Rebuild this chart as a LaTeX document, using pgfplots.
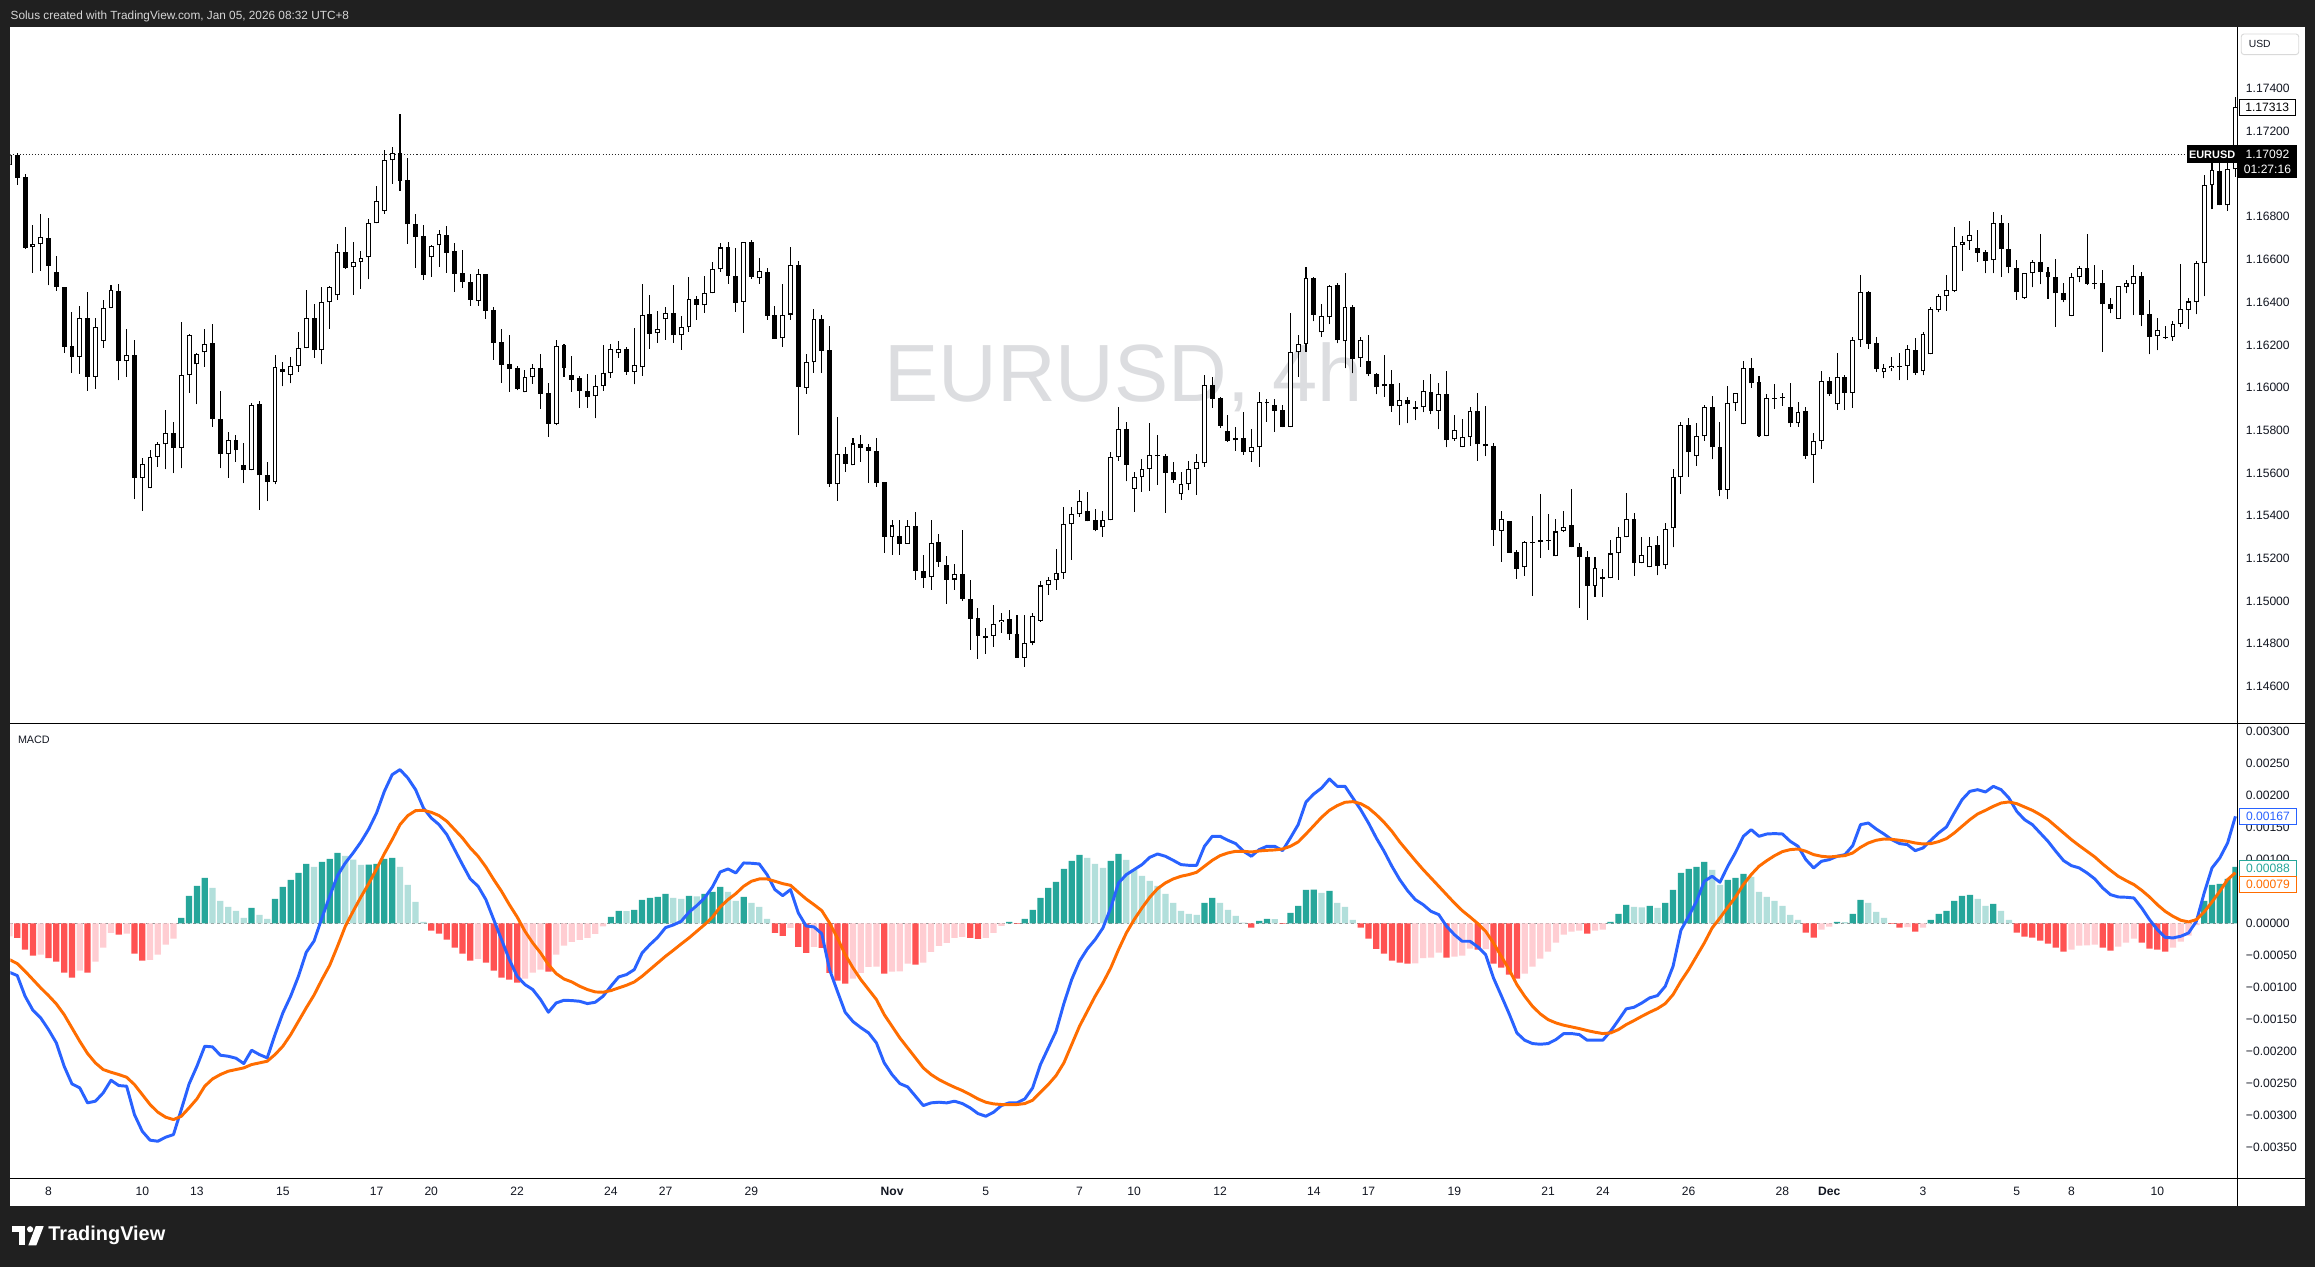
\documentclass[border=0pt]{standalone}
\usepackage{fontspec}
\setmainfont{Liberation Sans}
\usepackage{pgfplots}
\usepackage{pgfplotstable}
\pgfplotsset{compat=1.18}

\definecolor{tvbg}{RGB}{32,32,32}
\definecolor{hdr}{RGB}{214,214,214}
\definecolor{tvtext}{RGB}{19,23,34}
\definecolor{wmark}{RGB}{220,221,224}
\definecolor{macdblue}{RGB}{41,98,255}
\definecolor{sigorange}{RGB}{255,109,0}
\definecolor{hteal}{RGB}{38,166,154}
\definecolor{hlteal}{RGB}{178,223,219}
\definecolor{hred}{RGB}{255,82,82}
\definecolor{hpink}{RGB}{255,205,210}

% EURUSD 4h candles, white (rising) ones
\pgfplotstableread{
i o h l c
0 1.17043 1.17097 1.17035 1.17089
3 1.16657 1.16762 1.16538 1.16673
4 1.16671 1.16813 1.16548 1.16705
9 1.16145 1.16382 1.16064 1.16325
11 1.16051 1.16325 1.15995 1.16282
12 1.16217 1.16410 1.16186 1.16371
13 1.16371 1.16481 1.16371 1.16456
15 1.16122 1.16275 1.16051 1.16151
17 1.15578 1.15669 1.15424 1.15641
18 1.15528 1.15708 1.15528 1.15674
19 1.15674 1.15747 1.15630 1.15734
20 1.15734 1.15895 1.15617 1.15786
22 1.15719 1.16307 1.15621 1.16058
23 1.16058 1.16250 1.15976 1.16245
24 1.16109 1.16164 1.15922 1.16156
25 1.16165 1.16275 1.16098 1.16203
28 1.15688 1.15792 1.15578 1.15753
31 1.15613 1.15926 1.15613 1.15919
34 1.15557 1.16151 1.15547 1.16095
36 1.16058 1.16142 1.16019 1.16103
37 1.16103 1.16259 1.16075 1.16184
38 1.16184 1.16456 1.16184 1.16325
40 1.16175 1.16470 1.16108 1.16399
41 1.16399 1.16474 1.16276 1.16470
42 1.16432 1.16673 1.16412 1.16634
44 1.16563 1.16682 1.16435 1.16587
45 1.16587 1.16640 1.16463 1.16606
46 1.16610 1.16790 1.16506 1.16769
47 1.16769 1.16944 1.16769 1.16872
48 1.16826 1.17113 1.16815 1.17064
49 1.17064 1.17126 1.16955 1.17097
54 1.16610 1.16667 1.16519 1.16661
55 1.16666 1.16736 1.16566 1.16717
60 1.16404 1.16555 1.16383 1.16530
66 1.15977 1.16080 1.15977 1.16048
67 1.16048 1.16112 1.16018 1.16090
70 1.15831 1.16222 1.15823 1.16193
75 1.15959 1.16059 1.15856 1.16006
76 1.16006 1.16199 1.15985 1.16066
77 1.16066 1.16204 1.16046 1.16179
78 1.16160 1.16218 1.16140 1.16179
80 1.16074 1.16279 1.16015 1.16105
81 1.16094 1.16485 1.16055 1.16338
83 1.16254 1.16358 1.16210 1.16272
84 1.16319 1.16379 1.16224 1.16347
86 1.16244 1.16335 1.16177 1.16282
87 1.16282 1.16518 1.16262 1.16413
89 1.16385 1.16522 1.16350 1.16441
90 1.16441 1.16588 1.16441 1.16553
91 1.16553 1.16678 1.16542 1.16656
94 1.16402 1.16680 1.16257 1.16680
96 1.16511 1.16609 1.16486 1.16545
99 1.16230 1.16487 1.16191 1.16338
100 1.16342 1.16656 1.16317 1.16572
102 1.16000 1.16155 1.15971 1.16118
103 1.16118 1.16370 1.16069 1.16319
106 1.15546 1.15860 1.15470 1.15691
108 1.15635 1.15766 1.15635 1.15738
113 1.15301 1.15378 1.15217 1.15354
115 1.15268 1.15378 1.15268 1.15350
118 1.15111 1.15378 1.15053 1.15270
121 1.15101 1.15176 1.15053 1.15125
126 1.14836 1.14980 1.14786 1.14895
127 1.14900 1.14942 1.14852 1.14912
130 1.14734 1.14934 1.14692 1.14806
131 1.14806 1.14942 1.14792 1.14930
132 1.14908 1.15092 1.14903 1.15073
133 1.15073 1.15111 1.15030 1.15101
134 1.15097 1.15242 1.15053 1.15133
135 1.15133 1.15442 1.15104 1.15359
136 1.15359 1.15442 1.15193 1.15406
137 1.15406 1.15521 1.15395 1.15471
140 1.15345 1.15424 1.15301 1.15382
141 1.15378 1.15696 1.15378 1.15673
142 1.15673 1.15911 1.15657 1.15804
144 1.15526 1.15604 1.15419 1.15579
145 1.15579 1.15665 1.15512 1.15617
146 1.15617 1.15834 1.15517 1.15682
150 1.15500 1.15603 1.15475 1.15547
151 1.15547 1.15657 1.15519 1.15617
152 1.15617 1.15687 1.15498 1.15650
153 1.15645 1.16059 1.15629 1.16010
159 1.15700 1.15806 1.15653 1.15720
160 1.15720 1.15979 1.15629 1.15931
164 1.15817 1.16349 1.15814 1.16165
165 1.16165 1.16248 1.16051 1.16202
166 1.16202 1.16563 1.16168 1.16511
168 1.16258 1.16391 1.16238 1.16333
169 1.16329 1.16480 1.16297 1.16475
171 1.16216 1.16535 1.16090 1.16376
173 1.16137 1.16235 1.16098 1.16221
178 1.15912 1.16020 1.15823 1.15940
181 1.15907 1.16035 1.15884 1.15982
183 1.15892 1.16020 1.15804 1.15968
185 1.15757 1.15873 1.15751 1.15803
186 1.15721 1.15853 1.15721 1.15767
187 1.15767 1.15909 1.15728 1.15888
191 1.15329 1.15423 1.15184 1.15384
194 1.15158 1.15283 1.15119 1.15276
198 1.15209 1.15384 1.15209 1.15326
199 1.15329 1.15422 1.15323 1.15348
203 1.15072 1.15206 1.15020 1.15153
205 1.15106 1.15286 1.15106 1.15223
206 1.15223 1.15348 1.15100 1.15298
207 1.15298 1.15506 1.15298 1.15383
209 1.15177 1.15300 1.15177 1.15214
210 1.15158 1.15301 1.15158 1.15258
212 1.15167 1.15364 1.15152 1.15336
213 1.15340 1.15617 1.15251 1.15579
214 1.15579 1.15837 1.15503 1.15823
216 1.15678 1.15832 1.15634 1.15771
217 1.15771 1.15916 1.15751 1.15907
220 1.15521 1.16005 1.15476 1.15929
221 1.15926 1.15973 1.15891 1.15973
222 1.15827 1.16124 1.15827 1.16090
225 1.15773 1.15968 1.15773 1.15949
229 1.15832 1.15932 1.15816 1.15884
231 1.15682 1.15785 1.15554 1.15748
232 1.15748 1.16076 1.15712 1.16029
234 1.15921 1.16160 1.15896 1.16048
236 1.15976 1.16235 1.15905 1.16221
237 1.16221 1.16527 1.16191 1.16446
240 1.16071 1.16108 1.16043 1.16093
241 1.16090 1.16141 1.16076 1.16101
243 1.16101 1.16197 1.16035 1.16179
245 1.16076 1.16260 1.16057 1.16249
246 1.16155 1.16375 1.16155 1.16366
247 1.16363 1.16436 1.16352 1.16427
248 1.16427 1.16525 1.16360 1.16455
249 1.16453 1.16753 1.16447 1.16661
250 1.16666 1.16709 1.16546 1.16683
251 1.16684 1.16780 1.16645 1.16713
254 1.16596 1.16822 1.16535 1.16772
258 1.16419 1.16538 1.16416 1.16535
259 1.16535 1.16597 1.16469 1.16589
264 1.16336 1.16535 1.16333 1.16516
265 1.16516 1.16569 1.16492 1.16558
270 1.16321 1.16477 1.16321 1.16474
271 1.16469 1.16502 1.16441 1.16491
272 1.16483 1.16574 1.16339 1.16521
275 1.16240 1.16324 1.16174 1.16268
277 1.16235 1.16310 1.16219 1.16299
278 1.16296 1.16578 1.16285 1.16366
279 1.16363 1.16418 1.16275 1.16403
280 1.16400 1.16594 1.16343 1.16585
281 1.16581 1.16994 1.16428 1.16950
282 1.16947 1.17050 1.16834 1.17017
284 1.16853 1.17050 1.16827 1.17022
285 1.17022 1.17362 1.16987 1.17312
}\upbars

% black (falling) candles and dojis
\pgfplotstableread{
i o h l c
1 1.17089 1.17097 1.16949 1.16983
2 1.16988 1.17000 1.16651 1.16655
5 1.16701 1.16794 1.16478 1.16571
6 1.16540 1.16616 1.16454 1.16473
7 1.16470 1.16470 1.16164 1.16192
8 1.16195 1.16354 1.16070 1.16145
10 1.16325 1.16448 1.15986 1.16051
14 1.16451 1.16485 1.16033 1.16122
16 1.16151 1.16223 1.15477 1.15578
21 1.15786 1.15839 1.15599 1.15719
26 1.16207 1.16298 1.15817 1.15855
27 1.15855 1.15984 1.15621 1.15688
29 1.15753 1.15780 1.15653 1.15706
30 1.15636 1.15742 1.15552 1.15613
32 1.15922 1.15937 1.15427 1.15589
33 1.15589 1.15652 1.15468 1.15557
35 1.16086 1.16120 1.16005 1.16075
39 1.16325 1.16390 1.16140 1.16175
43 1.16634 1.16752 1.16557 1.16562
50 1.17097 1.17281 1.16922 1.16969
51 1.16970 1.17073 1.16674 1.16764
52 1.16764 1.16813 1.16561 1.16706
53 1.16709 1.16761 1.16505 1.16528
56 1.16714 1.16756 1.16538 1.16631
57 1.16639 1.16677 1.16449 1.16533
58 1.16535 1.16644 1.16468 1.16496
59 1.16494 1.16532 1.16383 1.16411
61 1.16530 1.16530 1.16322 1.16360
62 1.16361 1.16379 1.16130 1.16210
63 1.16211 1.16274 1.16023 1.16107
64 1.16108 1.16246 1.15981 1.16088
65 1.16090 1.16101 1.15988 1.15995
68 1.16090 1.16158 1.15901 1.15971
69 1.15974 1.16021 1.15770 1.15831
71 1.16199 1.16205 1.16051 1.16093
72 1.16059 1.16148 1.15981 1.16037
73 1.16043 1.16054 1.15906 1.15985
74 1.15983 1.16063 1.15906 1.15957
79 1.16179 1.16190 1.16059 1.16074
82 1.16343 1.16433 1.16182 1.16252
85 1.16347 1.16480 1.16210 1.16244
88 1.16413 1.16429 1.16318 1.16388
92 1.16656 1.16683 1.16486 1.16524
93 1.16521 1.16653 1.16355 1.16397
95 1.16680 1.16691 1.16510 1.16518
97 1.16539 1.16558 1.16317 1.16336
98 1.16342 1.16381 1.16228 1.16228
101 1.16572 1.16592 1.15777 1.16004
104 1.16319 1.16339 1.16069 1.16172
105 1.16174 1.16288 1.15535 1.15549
107 1.15691 1.15721 1.15606 1.15643
109 1.15734 1.15776 1.15652 1.15718
110 1.15721 1.15734 1.15554 1.15705
111 1.15705 1.15766 1.15535 1.15554
112 1.15557 1.15557 1.15226 1.15301
114 1.15303 1.15382 1.15217 1.15268
116 1.15350 1.15417 1.15100 1.15142
117 1.15143 1.15218 1.15062 1.15106
119 1.15275 1.15312 1.15161 1.15184
120 1.15167 1.15209 1.14987 1.15101
122 1.15125 1.15335 1.15001 1.15011
123 1.15008 1.15098 1.14772 1.14917
124 1.14919 1.14966 1.14730 1.14838
125 1.14838 1.14872 1.14753 1.14825
128 1.14914 1.14956 1.14819 1.14844
129 1.14845 1.14933 1.14734 1.14734
138 1.15424 1.15513 1.15373 1.15373
139 1.15378 1.15429 1.15326 1.15335
143 1.15804 1.15839 1.15561 1.15639
147 1.15684 1.15778 1.15545 1.15679
148 1.15678 1.15689 1.15414 1.15601
149 1.15603 1.15651 1.15554 1.15568
154 1.16010 1.16051 1.15906 1.15948
155 1.15951 1.15956 1.15810 1.15821
156 1.15795 1.15871 1.15745 1.15751
157 1.15762 1.15814 1.15704 1.15753
158 1.15762 1.15885 1.15686 1.15700
161 1.15931 1.15946 1.15840 1.15926
162 1.15917 1.15948 1.15793 1.15892
163 1.15893 1.15918 1.15814 1.15817
167 1.16511 1.16516 1.16310 1.16341
170 1.16480 1.16488 1.16207 1.16221
172 1.16376 1.16386 1.16066 1.16135
174 1.16123 1.16244 1.16054 1.16062
175 1.16062 1.16066 1.15968 1.16001
176 1.16015 1.16151 1.15957 1.16006
177 1.16015 1.16082 1.15887 1.15912
179 1.15940 1.15957 1.15832 1.15921
180 1.15907 1.15938 1.15848 1.15898
182 1.15977 1.16065 1.15874 1.15892
184 1.15968 1.16077 1.15720 1.15753
188 1.15888 1.15974 1.15657 1.15734
189 1.15734 1.15913 1.15679 1.15725
190 1.15728 1.15739 1.15259 1.15333
192 1.15373 1.15373 1.15226 1.15226
193 1.15228 1.15239 1.15105 1.15151
195 1.15277 1.15398 1.15025 1.15272
196 1.15286 1.15501 1.15203 1.15278
197 1.15287 1.15408 1.15240 1.15282
200 1.15354 1.15525 1.15251 1.15251
201 1.15251 1.15272 1.14969 1.15205
202 1.15206 1.15234 1.14913 1.15072
204 1.15112 1.15150 1.15020 1.15105
208 1.15383 1.15414 1.15119 1.15180
211 1.15261 1.15304 1.15120 1.15166
215 1.15823 1.15857 1.15582 1.15696
218 1.15907 1.15960 1.15664 1.15720
219 1.15720 1.15837 1.15490 1.15521
223 1.16090 1.16137 1.15999 1.16019
224 1.16024 1.16052 1.15770 1.15773
226 1.15953 1.16015 1.15901 1.15948
227 1.15955 1.15974 1.15915 1.15949
228 1.15907 1.16019 1.15816 1.15832
230 1.15890 1.15909 1.15667 1.15681
233 1.16029 1.16049 1.15962 1.15971
235 1.16048 1.16058 1.15896 1.15976
238 1.16447 1.16450 1.16182 1.16205
239 1.16207 1.16235 1.16073 1.16088
242 1.16102 1.16160 1.16035 1.16097
244 1.16174 1.16230 1.16060 1.16069
252 1.16652 1.16736 1.16588 1.16631
253 1.16633 1.16644 1.16535 1.16594
255 1.16772 1.16808 1.16519 1.16647
256 1.16647 1.16772 1.16535 1.16563
257 1.16558 1.16595 1.16410 1.16446
260 1.16589 1.16719 1.16483 1.16542
261 1.16542 1.16563 1.16416 1.16516
262 1.16516 1.16602 1.16285 1.16441
263 1.16441 1.16489 1.16399 1.16410
266 1.16558 1.16719 1.16482 1.16486
267 1.16489 1.16574 1.16460 1.16484
268 1.16489 1.16549 1.16168 1.16389
269 1.16389 1.16418 1.16347 1.16366
273 1.16521 1.16541 1.16288 1.16341
274 1.16343 1.16410 1.16155 1.16238
276 1.16238 1.16286 1.16226 1.16233
283 1.17014 1.17050 1.16853 1.16853
}\downbars

\pgfplotsset{
  tvpane/.style={
    scale only axis, width=1508.5pt, xmin=0.11, xmax=285.27,
    axis line style={draw=none}, tick style={draw=none}, major tick length=0pt,
    yticklabel pos=right, scaled y ticks=false, clip=true,
    yticklabel style={anchor=west, inner sep=0pt, xshift=5.5pt, text=tvtext,
      font=\fontsize{8.2}{9}\selectfont},
  },
  nomark/.style={only marks, mark=*, mark size=0pt,
    mark options={draw=none, fill=none}},
  wick/.style={nomark, error bars/.cd, y dir=plus, y explicit,
    error mark=none, error bar style={black, line width=0.7pt, line cap=butt}},
  body/.style={nomark, error bars/.cd, y dir=plus, y explicit,
    error mark=none, error bar style={black, line width=3.3pt, line cap=butt}},
  hollow/.style={nomark, error bars/.cd, y dir=plus, y explicit,
    error mark=none, error bar style={white, line width=1.9pt, line cap=butt,
      shorten <=0.7pt, shorten >=0.7pt}},
  hbar/.style={ybar, bar width=0.8, bar shift=0pt, draw=none, fill=#1},
}

\begin{document}
\begin{tikzpicture}[x=1pt,y=1pt]
\useasboundingbox (0,0) rectangle (1568,-858);
\fill[tvbg] (0,0) rectangle (1568,-858);
\fill[white] (7,-18.5) rectangle (1561,-817);
\node[anchor=base west, inner sep=0pt, text=hdr, font=\fontsize{8}{9}\selectfont]
  at (7,-12.9) {Solus created with TradingView.com, Jan 05, 2026 08:32 UTC+8};
\node[anchor=base, inner sep=0pt, text=wmark, font=\fontsize{55}{60}\selectfont]
  at (761,-272) {EURUSD, 4h};

% ---- price pane ----
\begin{axis}[tvpane, at={(7pt,-490pt)}, anchor=south west, height=471.5pt,
  ymin=1.14427, ymax=1.17687, xtick=\empty,
  ytick={1.146,1.148,1.150,1.152,1.154,1.156,1.158,1.160,1.162,1.164,1.166,1.168,1.172,1.174},
  yticklabels={1.14600,1.14800,1.15000,1.15200,1.15400,1.15600,1.15800,1.16000,1.16200,1.16400,1.16600,1.16800,1.17200,1.17400},
]
\addplot[black!85, line width=0.7pt, dash pattern=on 0.7pt off 1.4pt]
  coordinates {(0.11,1.17092)(278.7,1.17092)};
\addplot[wick] table[x=i, y=l, y error plus expr=\thisrow{h}-\thisrow{l}] {\upbars};
\addplot[wick] table[x=i, y=l, y error plus expr=\thisrow{h}-\thisrow{l}] {\downbars};
\addplot[body] table[x=i, y=c, y error plus expr=\thisrow{o}-\thisrow{c}] {\downbars};
\addplot[body] table[x=i, y=o, y error plus expr=\thisrow{c}-\thisrow{o}] {\upbars};
\addplot[hollow] table[x=i, y=o, y error plus expr=\thisrow{c}-\thisrow{o}] {\upbars};
\end{axis}

% ---- MACD pane ----
\begin{axis}[tvpane, at={(7pt,-798pt)}, anchor=south west, height=308pt,
  ymin=-0.00398, ymax=0.00312,
  ytick={-0.0035,-0.003,-0.0025,-0.002,-0.0015,-0.001,-0.0005,0,0.001,0.0015,0.002,0.0025,0.003},
  yticklabels={−0.00350,−0.00300,−0.00250,−0.00200,−0.00150,−0.00100,−0.00050,0.00000,0.00100,0.00150,0.00200,0.00250,0.00300},
  xtick={5,17,24,35,47,54,65,77,84,95,113,125,137,144,155,167,174,185,197,204,215,227,233,245,257,264,275},
  xticklabels={8,10,13,15,17,20,22,24,27,29,\textbf{Nov},5,7,10,12,14,17,19,21,24,26,28,\textbf{Dec},3,5,8,10},
  xticklabel style={anchor=center, inner sep=0pt, yshift=-9pt, text=tvtext,
    font=\fontsize{8.2}{9}\selectfont},
]
\addplot[black!45, line width=0.6pt, dash pattern=on 2pt off 2pt]
  coordinates {(0.11,0)(285.27,0)};
% histogram, growing above zero
\addplot[hbar=hteal] coordinates {(22,0.83e-4)(23,4.27e-4)(24,5.83e-4)(25,7.08e-4)(31,2.39e-4)(34,3.80e-4)(35,5.67e-4)(36,6.76e-4)(37,7.86e-4)(38,9.26e-4)(40,9.57e-4)(41,10.04e-4)(42,10.98e-4)(46,9.15e-4)(47,9.26e-4)(48,10.04e-4)(49,10.20e-4)(77,0.99e-4)(78,1.93e-4)(80,2.08e-4)(81,3.64e-4)(82,3.95e-4)(83,4.11e-4)(84,4.58e-4)(87,4.27e-4)(89,4.58e-4)(90,4.89e-4)(91,5.67e-4)(94,4.11e-4)(128,0.21e-4)(130,0.68e-4)(131,2.08e-4)(132,3.95e-4)(133,5.52e-4)(134,6.45e-4)(135,8.48e-4)(136,9.73e-4)(137,10.67e-4)(141,9.73e-4)(142,10.82e-4)(153,3.17e-4)(154,3.95e-4)(160,0.36e-4)(161,0.68e-4)(164,1.61e-4)(165,2.71e-4)(166,5.20e-4)(167,5.25e-4)(169,5.05e-4)(205,0.21e-4)(206,1.46e-4)(207,2.86e-4)(210,2.71e-4)(212,3.17e-4)(213,5.20e-4)(214,7.86e-4)(215,8.48e-4)(216,8.79e-4)(217,9.57e-4)(220,6.76e-4)(221,7.08e-4)(222,7.70e-4)(234,0.21e-4)(236,1.46e-4)(237,3.64e-4)(246,0.52e-4)(247,1.46e-4)(248,1.93e-4)(249,3.49e-4)(250,4.27e-4)(251,4.42e-4)(254,3.02e-4)(281,3.49e-4)(282,5.98e-4)(283,6.14e-4)(284,6.92e-4)(285,8.79e-4)};
% above zero, falling
\addplot[hbar=hlteal] coordinates {(26,5.52e-4)(27,3.49e-4)(28,2.55e-4)(29,1.92e-4)(30,0.83e-4)(32,1.30e-4)(33,0.68e-4)(39,8.79e-4)(43,10.51e-4)(44,9.94e-4)(45,9.11e-4)(50,8.79e-4)(51,5.98e-4)(52,3.33e-4)(53,0.21e-4)(79,1.90e-4)(85,3.95e-4)(86,3.80e-4)(88,4.20e-4)(92,4.89e-4)(93,3.49e-4)(95,3.17e-4)(96,2.55e-4)(97,0.68e-4)(138,10.20e-4)(139,9.26e-4)(140,8.64e-4)(143,9.89e-4)(144,8.32e-4)(145,7.39e-4)(146,6.61e-4)(147,5.83e-4)(148,4.58e-4)(149,3.17e-4)(150,1.93e-4)(151,1.46e-4)(152,1.30e-4)(155,3.17e-4)(156,2.08e-4)(157,1.14e-4)(158,0.10e-4)(162,0.65e-4)(168,4.73e-4)(170,3.17e-4)(171,2.55e-4)(172,0.52e-4)(208,2.55e-4)(209,2.50e-4)(211,2.39e-4)(218,8.32e-4)(219,5.98e-4)(223,7.23e-4)(224,4.89e-4)(225,4.11e-4)(226,3.49e-4)(227,2.71e-4)(228,1.30e-4)(229,0.52e-4)(235,0.18e-4)(238,3.17e-4)(239,1.77e-4)(240,0.83e-4)(252,3.80e-4)(253,2.71e-4)(255,1.93e-4)(256,0.52e-4)};
% below zero, falling
\addplot[hbar=hred] coordinates {(1,-2.29e-4)(2,-4.11e-4)(3,-5.05e-4)(5,-5.46e-4)(6,-5.98e-4)(7,-7.70e-4)(8,-8.48e-4)(10,-7.70e-4)(14,-1.77e-4)(16,-4.73e-4)(17,-5.83e-4)(54,-1.14e-4)(55,-1.61e-4)(56,-2.55e-4)(57,-3.80e-4)(58,-4.73e-4)(59,-5.83e-4)(61,-6.14e-4)(62,-7.39e-4)(63,-8.48e-4)(64,-8.79e-4)(65,-9.26e-4)(69,-7.54e-4)(98,-1.51e-4)(99,-1.98e-4)(101,-3.69e-4)(102,-4.63e-4)(104,-3.85e-4)(105,-7.75e-4)(106,-8.95e-4)(107,-9.42e-4)(112,-7.86e-4)(116,-6.45e-4)(123,-2.29e-4)(124,-2.45e-4)(129,-0.10e-4)(159,-0.68e-4)(163,-0.10e-4)(173,-0.68e-4)(174,-2.39e-4)(175,-4.01e-4)(176,-4.73e-4)(177,-5.83e-4)(178,-6.14e-4)(179,-6.30e-4)(184,-5.36e-4)(188,-4.11e-4)(190,-6.30e-4)(191,-6.92e-4)(192,-8.01e-4)(193,-8.64e-4)(202,-1.61e-4)(230,-1.46e-4)(231,-2.24e-4)(241,-0.10e-4)(242,-0.68e-4)(244,-1.30e-4)(257,-1.46e-4)(258,-2.08e-4)(259,-2.24e-4)(260,-2.71e-4)(261,-3.17e-4)(262,-3.80e-4)(263,-4.42e-4)(268,-3.80e-4)(269,-4.27e-4)(273,-3.02e-4)(274,-3.95e-4)(275,-4.11e-4)(276,-4.42e-4)};
% below zero, rising
\addplot[hbar=hpink] coordinates {(0,-2.03e-4)(4,-4.90e-4)(9,-7.39e-4)(11,-5.98e-4)(12,-3.80e-4)(13,-1.51e-4)(15,-1.61e-4)(18,-5.70e-4)(19,-4.89e-4)(20,-3.33e-4)(21,-2.39e-4)(60,-5.57e-4)(66,-8.64e-4)(67,-7.70e-4)(68,-7.23e-4)(70,-4.89e-4)(71,-3.49e-4)(72,-2.91e-4)(73,-2.60e-4)(74,-2.29e-4)(75,-1.66e-4)(76,-0.47e-4)(100,-0.73e-4)(103,-3.69e-4)(108,-8.64e-4)(109,-7.75e-4)(110,-6.82e-4)(111,-6.75e-4)(113,-7.54e-4)(114,-7.50e-4)(115,-6.30e-4)(117,-6.14e-4)(118,-4.47e-4)(119,-3.54e-4)(120,-3.07e-4)(121,-2.29e-4)(122,-2.13e-4)(125,-2.29e-4)(126,-1.51e-4)(127,-0.42e-4)(180,-6.25e-4)(181,-5.46e-4)(182,-5.36e-4)(183,-4.58e-4)(185,-5.20e-4)(186,-5.05e-4)(187,-3.95e-4)(189,-4.05e-4)(194,-7.86e-4)(195,-6.76e-4)(196,-5.52e-4)(197,-4.42e-4)(198,-3.02e-4)(199,-1.77e-4)(200,-1.30e-4)(201,-1.14e-4)(203,-1.14e-4)(204,-0.99e-4)(232,-0.99e-4)(233,-0.52e-4)(243,-0.62e-4)(245,-0.68e-4)(264,-4.11e-4)(265,-3.49e-4)(266,-3.45e-4)(267,-3.33e-4)(270,-3.64e-4)(271,-3.02e-4)(272,-2.39e-4)(277,-3.80e-4)(278,-2.86e-4)(279,-1.93e-4)(280,-0.30e-4)};
% MACD line
\addplot[macdblue, line width=2pt, line join=round] coordinates {(0,-7.65e-4)(1,-8.17e-4)(2,-11.39e-4)(3,-13.58e-4)(4,-14.78e-4)(5,-16.60e-4)(6,-18.68e-4)(7,-22.32e-4)(8,-25.08e-4)(9,-25.70e-4)(10,-28.04e-4)(11,-27.78e-4)(12,-26.48e-4)(13,-24.51e-4)(14,-25.34e-4)(15,-25.44e-4)(16,-29.87e-4)(17,-32.47e-4)(18,-33.87e-4)(19,-34.03e-4)(20,-33.40e-4)(21,-32.99e-4)(22,-29.08e-4)(23,-25.08e-4)(24,-22.32e-4)(25,-19.20e-4)(26,-19.30e-4)(27,-20.60e-4)(28,-20.76e-4)(29,-21.07e-4)(30,-21.90e-4)(31,-19.82e-4)(32,-20.50e-4)(33,-21.02e-4)(34,-17.38e-4)(35,-14.00e-4)(36,-11.39e-4)(37,-8.27e-4)(38,-4.53e-4)(39,-2.76e-4)(40,0.83e-4)(41,4.21e-4)(42,7.44e-4)(43,9.42e-4)(44,10.98e-4)(45,12.70e-4)(46,14.72e-4)(47,17.22e-4)(48,20.60e-4)(49,23.21e-4)(50,23.99e-4)(51,22.69e-4)(52,20.86e-4)(53,18.00e-4)(54,16.44e-4)(55,15.40e-4)(56,13.84e-4)(57,11.50e-4)(58,9.16e-4)(59,6.92e-4)(60,5.78e-4)(61,3.69e-4)(62,0.57e-4)(63,-2.55e-4)(64,-5.67e-4)(65,-8.27e-4)(66,-9.57e-4)(67,-10.35e-4)(68,-11.91e-4)(69,-13.89e-4)(70,-12.44e-4)(71,-12.02e-4)(72,-12.07e-4)(73,-12.18e-4)(74,-12.54e-4)(75,-12.33e-4)(76,-11.39e-4)(77,-9.83e-4)(78,-8.38e-4)(79,-8.01e-4)(80,-7.23e-4)(81,-4.63e-4)(82,-3.33e-4)(83,-2.19e-4)(84,-0.68e-4)(85,-0.26e-4)(86,0.31e-4)(87,1.72e-4)(88,2.76e-4)(89,3.95e-4)(90,5.67e-4)(91,8.01e-4)(92,8.48e-4)(93,7.86e-4)(94,9.42e-4)(95,9.37e-4)(96,9.26e-4)(97,7.60e-4)(98,5.26e-4)(99,4.32e-4)(100,5.26e-4)(101,1.61e-4)(102,-0.42e-4)(103,-0.57e-4)(104,-1.61e-4)(105,-7.23e-4)(106,-10.61e-4)(107,-13.89e-4)(108,-15.35e-4)(109,-16.29e-4)(110,-17.12e-4)(111,-18.68e-4)(112,-21.80e-4)(113,-23.62e-4)(114,-25.03e-4)(115,-25.55e-4)(116,-27.00e-4)(117,-28.46e-4)(118,-28.04e-4)(119,-27.94e-4)(120,-28.04e-4)(121,-27.78e-4)(122,-28.15e-4)(123,-28.82e-4)(124,-29.71e-4)(125,-30.13e-4)(126,-29.50e-4)(127,-28.46e-4)(128,-28.04e-4)(129,-28.04e-4)(130,-27.42e-4)(131,-25.70e-4)(132,-22.06e-4)(133,-19.46e-4)(134,-16.86e-4)(135,-12.54e-4)(136,-8.79e-4)(137,-5.93e-4)(138,-4.01e-4)(139,-2.55e-4)(140,-0.73e-4)(141,2.39e-4)(142,6.30e-4)(143,7.60e-4)(144,8.38e-4)(145,9.16e-4)(146,10.30e-4)(147,10.82e-4)(148,10.46e-4)(149,9.83e-4)(150,9.16e-4)(151,9.05e-4)(152,9.05e-4)(153,12.02e-4)(154,13.58e-4)(155,13.58e-4)(156,12.96e-4)(157,12.44e-4)(158,11.24e-4)(159,10.46e-4)(160,11.50e-4)(161,12.02e-4)(162,12.02e-4)(163,11.34e-4)(164,13.32e-4)(165,15.40e-4)(166,18.94e-4)(167,20.19e-4)(168,21.12e-4)(169,22.53e-4)(170,21.38e-4)(171,21.38e-4)(172,19.56e-4)(173,17.74e-4)(174,15.66e-4)(175,13.32e-4)(176,11.24e-4)(177,8.90e-4)(178,6.82e-4)(179,5.10e-4)(180,3.69e-4)(181,2.91e-4)(182,1.87e-4)(183,1.35e-4)(184,-0.47e-4)(185,-1.77e-4)(186,-2.81e-4)(187,-2.81e-4)(188,-3.69e-4)(189,-4.89e-4)(190,-8.53e-4)(191,-11.29e-4)(192,-14.10e-4)(193,-17.12e-4)(194,-18.26e-4)(195,-18.78e-4)(196,-18.89e-4)(197,-18.78e-4)(198,-18.16e-4)(199,-17.22e-4)(200,-17.22e-4)(201,-17.38e-4)(202,-18.26e-4)(203,-18.26e-4)(204,-18.26e-4)(205,-16.86e-4)(206,-15.14e-4)(207,-13.37e-4)(208,-13.11e-4)(209,-12.44e-4)(210,-11.65e-4)(211,-11.29e-4)(212,-9.83e-4)(213,-6.71e-4)(214,-1.10e-4)(215,1.09e-4)(216,3.43e-4)(217,6.56e-4)(218,7.34e-4)(219,6.40e-4)(220,8.90e-4)(221,11.08e-4)(222,13.58e-4)(223,14.62e-4)(224,13.58e-4)(225,13.94e-4)(226,14.00e-4)(227,13.94e-4)(228,12.80e-4)(229,12.02e-4)(230,9.94e-4)(231,8.64e-4)(232,9.68e-4)(233,9.94e-4)(234,10.46e-4)(235,10.72e-4)(236,12.12e-4)(237,15.40e-4)(238,15.66e-4)(239,14.72e-4)(240,13.94e-4)(241,13.06e-4)(242,12.44e-4)(243,12.28e-4)(244,11.34e-4)(245,11.76e-4)(246,12.96e-4)(247,14.10e-4)(248,15.04e-4)(249,17.22e-4)(250,19.30e-4)(251,20.60e-4)(252,20.86e-4)(253,20.50e-4)(254,21.38e-4)(255,20.86e-4)(256,19.56e-4)(257,17.48e-4)(258,16.18e-4)(259,15.40e-4)(260,14.10e-4)(261,12.80e-4)(262,11.24e-4)(263,9.78e-4)(264,9.00e-4)(265,8.64e-4)(266,7.86e-4)(267,6.92e-4)(268,5.52e-4)(269,4.47e-4)(270,4.11e-4)(271,4.06e-4)(272,3.95e-4)(273,2.39e-4)(274,0.57e-4)(275,-0.99e-4)(276,-2.19e-4)(277,-2.29e-4)(278,-2.03e-4)(279,-1.51e-4)(280,0.31e-4)(281,4.73e-4)(282,8.64e-4)(283,10.20e-4)(284,12.54e-4)(285,16.70e-4)};
% signal line
\addplot[sigorange, line width=2pt, line join=round] coordinates {(0,-5.67e-4)(1,-6.30e-4)(2,-7.49e-4)(3,-8.79e-4)(4,-10.09e-4)(5,-11.29e-4)(6,-12.59e-4)(7,-14.26e-4)(8,-16.34e-4)(9,-18.42e-4)(10,-20.34e-4)(11,-21.80e-4)(12,-22.84e-4)(13,-23.26e-4)(14,-23.62e-4)(15,-24.04e-4)(16,-25.18e-4)(17,-26.74e-4)(18,-28.30e-4)(19,-29.50e-4)(20,-30.28e-4)(21,-30.65e-4)(22,-30.13e-4)(23,-28.82e-4)(24,-27.42e-4)(25,-25.44e-4)(26,-24.30e-4)(27,-23.62e-4)(28,-23.10e-4)(29,-22.84e-4)(30,-22.58e-4)(31,-22.06e-4)(32,-21.80e-4)(33,-21.54e-4)(34,-20.50e-4)(35,-19.20e-4)(36,-17.40e-4)(37,-15.30e-4)(38,-13.20e-4)(39,-11.20e-4)(40,-8.79e-4)(41,-6.56e-4)(42,-3.59e-4)(43,-0.47e-4)(44,1.87e-4)(45,4.11e-4)(46,6.19e-4)(47,8.48e-4)(48,10.87e-4)(49,13.06e-4)(50,15.40e-4)(51,16.81e-4)(52,17.59e-4)(53,17.64e-4)(54,17.33e-4)(55,16.81e-4)(56,15.92e-4)(57,14.62e-4)(58,13.32e-4)(59,11.76e-4)(60,10.46e-4)(61,8.79e-4)(62,6.82e-4)(63,4.99e-4)(64,2.91e-4)(65,0.99e-4)(66,-1.25e-4)(67,-3.07e-4)(68,-4.63e-4)(69,-6.45e-4)(70,-7.86e-4)(71,-8.70e-4)(72,-9.16e-4)(73,-9.83e-4)(74,-10.35e-4)(75,-10.72e-4)(76,-10.77e-4)(77,-10.51e-4)(78,-10.09e-4)(79,-9.68e-4)(80,-9.16e-4)(81,-8.27e-4)(82,-7.23e-4)(83,-6.19e-4)(84,-5.15e-4)(85,-4.21e-4)(86,-3.23e-4)(87,-2.29e-4)(88,-1.25e-4)(89,-0.21e-4)(90,0.94e-4)(91,2.55e-4)(92,3.69e-4)(93,4.63e-4)(94,5.78e-4)(95,6.56e-4)(96,6.92e-4)(97,6.92e-4)(98,6.56e-4)(99,6.19e-4)(100,5.93e-4)(101,4.84e-4)(102,3.80e-4)(103,2.91e-4)(104,1.98e-4)(105,0.05e-4)(106,-2.29e-4)(107,-4.89e-4)(108,-6.97e-4)(109,-8.79e-4)(110,-10.35e-4)(111,-11.91e-4)(112,-14.26e-4)(113,-16.08e-4)(114,-17.90e-4)(115,-19.46e-4)(116,-21.02e-4)(117,-22.58e-4)(118,-23.62e-4)(119,-24.40e-4)(120,-25.03e-4)(121,-25.60e-4)(122,-26.12e-4)(123,-26.74e-4)(124,-27.42e-4)(125,-27.94e-4)(126,-28.20e-4)(127,-28.30e-4)(128,-28.30e-4)(129,-28.30e-4)(130,-28.15e-4)(131,-27.63e-4)(132,-26.38e-4)(133,-25.18e-4)(134,-23.78e-4)(135,-21.80e-4)(136,-18.94e-4)(137,-16.08e-4)(138,-13.74e-4)(139,-11.39e-4)(140,-9.31e-4)(141,-6.97e-4)(142,-4.11e-4)(143,-1.51e-4)(144,0.57e-4)(145,2.39e-4)(146,4.06e-4)(147,5.41e-4)(148,6.30e-4)(149,6.92e-4)(150,7.34e-4)(151,7.60e-4)(152,7.96e-4)(153,8.90e-4)(154,9.83e-4)(155,10.56e-4)(156,10.98e-4)(157,11.24e-4)(158,11.24e-4)(159,11.13e-4)(160,11.29e-4)(161,11.39e-4)(162,11.45e-4)(163,11.60e-4)(164,12.02e-4)(165,12.70e-4)(166,13.94e-4)(167,15.24e-4)(168,16.55e-4)(169,17.64e-4)(170,18.37e-4)(171,18.89e-4)(172,18.99e-4)(173,18.68e-4)(174,18.00e-4)(175,16.96e-4)(176,15.76e-4)(177,14.36e-4)(178,12.70e-4)(179,11.24e-4)(180,9.78e-4)(181,8.38e-4)(182,7.08e-4)(183,5.78e-4)(184,4.47e-4)(185,3.17e-4)(186,1.98e-4)(187,0.99e-4)(188,-0.05e-4)(189,-1.25e-4)(190,-3.07e-4)(191,-5.15e-4)(192,-7.23e-4)(193,-9.57e-4)(194,-11.39e-4)(195,-12.96e-4)(196,-14.15e-4)(197,-15.04e-4)(198,-15.56e-4)(199,-15.92e-4)(200,-16.18e-4)(201,-16.44e-4)(202,-16.75e-4)(203,-17.01e-4)(204,-17.22e-4)(205,-17.12e-4)(206,-16.60e-4)(207,-15.82e-4)(208,-15.19e-4)(209,-14.52e-4)(210,-13.89e-4)(211,-13.32e-4)(212,-12.54e-4)(213,-11.13e-4)(214,-9.05e-4)(215,-7.23e-4)(216,-5.15e-4)(217,-3.07e-4)(218,-0.73e-4)(219,0.83e-4)(220,2.50e-4)(221,4.11e-4)(222,6.04e-4)(223,7.60e-4)(224,8.90e-4)(225,9.78e-4)(226,10.56e-4)(227,11.19e-4)(228,11.50e-4)(229,11.60e-4)(230,11.24e-4)(231,10.72e-4)(232,10.46e-4)(233,10.35e-4)(234,10.46e-4)(235,10.56e-4)(236,10.98e-4)(237,11.86e-4)(238,12.54e-4)(239,12.96e-4)(240,13.16e-4)(241,13.11e-4)(242,12.96e-4)(243,12.80e-4)(244,12.54e-4)(245,12.38e-4)(246,12.44e-4)(247,12.75e-4)(248,13.22e-4)(249,14.10e-4)(250,15.14e-4)(251,16.18e-4)(252,17.07e-4)(253,17.64e-4)(254,18.26e-4)(255,18.78e-4)(256,18.94e-4)(257,18.68e-4)(258,18.16e-4)(259,17.64e-4)(260,16.96e-4)(261,16.18e-4)(262,15.14e-4)(263,14.10e-4)(264,13.06e-4)(265,12.12e-4)(266,11.24e-4)(267,10.35e-4)(268,9.26e-4)(269,8.27e-4)(270,7.34e-4)(271,6.66e-4)(272,6.04e-4)(273,5.15e-4)(274,4.11e-4)(275,2.91e-4)(276,1.87e-4)(277,1.09e-4)(278,0.47e-4)(279,0.21e-4)(280,0.57e-4)(281,1.77e-4)(282,3.33e-4)(283,4.99e-4)(284,6.82e-4)(285,7.90e-4)};
\end{axis}

% pane separators and scale border
\draw[black, line width=0.75pt] (7,-490) -- (1561,-490);
\draw[black, line width=0.75pt] (7,-798) -- (1561,-798);
\draw[black, line width=0.75pt] (1515.5,-18.5) -- (1515.5,-817);

\node[anchor=west, inner sep=0pt, text=tvtext, font=\fontsize{7.3}{8}\selectfont] at (12,-501) {MACD};

% right scale labels
\draw[black!15, fill=white, rounded corners=2pt, line width=0.6pt] (1518,-23) rectangle (1557,-37);
\node[anchor=west, inner sep=0pt, text=tvtext, font=\fontsize{7}{8}\selectfont] at (1523,-30) {USD};
\draw[black, fill=white, line width=0.6pt] (1516.8,-67.5) rectangle (1554.5,-78.5);
\node[inner sep=0pt, text=black, font=\fontsize{8.2}{9}\selectfont] at (1535.6,-73) {1.17313};
\fill[black] (1481,-98.5) rectangle (1515.5,-110.5);
\node[inner sep=0pt, text=white, font=\bfseries\fontsize{7.4}{8}\selectfont] at (1498.3,-104.5) {EURUSD};
\fill[black] (1515.5,-98.5) rectangle (1556,-120.5);
\node[inner sep=0pt, text=white, font=\fontsize{8.2}{9}\selectfont] at (1535.8,-104.2) {1.17092};
\node[inner sep=0pt, text=white, font=\fontsize{8.2}{9}\selectfont] at (1535.8,-114.6) {01:27:16};

\draw[macdblue, fill=white, line width=0.6pt] (1516.8,-547.5) rectangle (1555.5,-558.5);
\node[inner sep=0pt, text=macdblue, font=\fontsize{8.2}{9}\selectfont] at (1536.1,-553) {0.00167};
\draw[hteal, fill=white, line width=0.6pt] (1516.8,-582.5) rectangle (1555.5,-593.5);
\node[inner sep=0pt, text=hteal, font=\fontsize{8.2}{9}\selectfont] at (1536.1,-588) {0.00088};
\draw[sigorange, fill=white, line width=0.6pt] (1516.8,-593.5) rectangle (1555.5,-604.5);
\node[inner sep=0pt, text=sigorange, font=\fontsize{8.2}{9}\selectfont] at (1536.1,-599) {0.00079};

% footer logo
\fill[white] (8,-830.5) rectangle (17,-834.6);
\fill[white] (12.6,-834.6) rectangle (17,-843.5);
\fill[white] (20.4,-832.6) circle (2.1);
\fill[white] (24.2,-830.5) -- (29.6,-830.5) -- (24.6,-843.5) -- (19.2,-843.5) -- cycle;
\node[anchor=west, inner sep=0pt, text=white, font=\bfseries\fontsize{13.5}{15}\selectfont] at (32.5,-837) {TradingView};
\end{tikzpicture}
\end{document}
